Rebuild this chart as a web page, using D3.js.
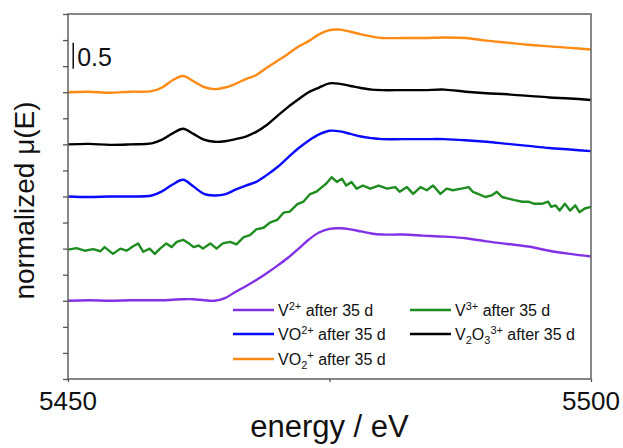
<!DOCTYPE html>
<html>
<head>
<meta charset="utf-8">
<script src="https://cdn.jsdelivr.net/npm/d3@7"></script>
<style>
  body { margin: 0; background: #fff; }
  svg text { font-family: "Liberation Sans", Arial, sans-serif; fill: #111; }
</style>
</head>
<body>
<div id="chart"></div>
<script>
const width = 623;
const height = 448;

// energy grid (eV) shared by the smooth spectra
const energies = [5450, 5452, 5454, 5456, 5458, 5459, 5460, 5461, 5462, 5463, 5464, 5465,
  5466, 5467, 5468, 5469, 5470, 5471, 5472, 5473, 5474, 5475, 5476, 5477, 5478, 5479,
  5480, 5482, 5484, 5486, 5488, 5490, 5492, 5494, 5496, 5498, 5500];

const muV2 = [0.00, 0.01, 0.00, 0.01, 0.01, 0.01, 0.02, 0.03, 0.03, 0.01, 0.00, 0.05,
  0.17, 0.28, 0.40, 0.53, 0.67, 0.82, 0.99, 1.17, 1.31, 1.38, 1.39, 1.37, 1.33, 1.29,
  1.27, 1.27, 1.25, 1.23, 1.20, 1.14, 1.09, 1.04, 0.96, 0.90, 0.85];

const muVO2 = [0.00, -0.01, 0.00, 0.00, 0.02, 0.10, 0.23, 0.32, 0.19, 0.05, 0.02, 0.04,
  0.13, 0.21, 0.28, 0.41, 0.56, 0.74, 0.92, 1.07, 1.19, 1.26, 1.25, 1.20, 1.15, 1.12,
  1.10, 1.10, 1.10, 1.10, 1.08, 1.05, 1.01, 0.97, 0.93, 0.90, 0.87];

const muV2O3 = [0.00, 0.01, -0.01, 0.00, 0.02, 0.09, 0.21, 0.30, 0.20, 0.09, 0.05, 0.06,
  0.10, 0.15, 0.24, 0.37, 0.54, 0.71, 0.86, 1.00, 1.09, 1.17, 1.16, 1.12, 1.08, 1.05,
  1.04, 1.04, 1.04, 1.05, 1.01, 0.98, 0.96, 0.93, 0.90, 0.88, 0.85];

const muVO2p = [0.00, 0.01, -0.01, 0.01, 0.02, 0.09, 0.23, 0.31, 0.21, 0.10, 0.06, 0.09,
  0.16, 0.25, 0.33, 0.47, 0.60, 0.73, 0.87, 0.98, 1.11, 1.19, 1.20, 1.16, 1.11, 1.07,
  1.04, 1.04, 1.04, 1.05, 1.04, 0.99, 0.95, 0.91, 0.88, 0.85, 0.82];

// the V3+ spectrum is noisy, so it has its own finer energy list
const energiesV3 = [5450.0, 5450.8, 5451.6, 5452.4, 5453.1, 5453.5, 5454.3, 5455.0, 5455.6,
  5456.2, 5456.7, 5457.2, 5457.8, 5458.3, 5458.8, 5459.4, 5459.9, 5460.4, 5461.0, 5461.5,
  5462.0, 5462.5, 5462.9, 5463.6, 5464.2, 5464.8, 5465.5, 5466.1, 5466.8, 5467.4, 5468.0,
  5468.7, 5469.3, 5470.0, 5470.6, 5471.2, 5471.9, 5472.5, 5473.1, 5473.8, 5474.1, 5474.7,
  5475.2, 5475.7, 5476.2, 5476.6, 5477.1, 5477.6, 5478.2, 5478.9, 5479.7, 5480.5, 5481.3,
  5481.7, 5482.4, 5483.0, 5483.7, 5484.3, 5484.9, 5485.6, 5486.2, 5486.8, 5487.6, 5488.3,
  5488.7, 5489.2, 5489.9, 5490.5, 5491.0, 5491.5, 5492.1, 5492.7, 5493.4, 5494.0, 5494.6,
  5495.3, 5495.9, 5496.2, 5496.6, 5497.0, 5497.5, 5498.0, 5498.5, 5498.9, 5499.4, 5500.0];

const muV3 = [-0.02, 0.01, -0.04, -0.01, -0.05, 0.03, -0.10, 0.00, -0.04,
  0.04, 0.10, -0.06, 0.00, -0.10, 0.00, 0.10, 0.03, 0.13, 0.17, 0.11,
  0.03, 0.06, 0.00, 0.10, 0.00, 0.10, 0.13, 0.08, 0.22, 0.26, 0.37,
  0.40, 0.50, 0.55, 0.69, 0.71, 0.85, 0.90, 1.04, 1.10, 1.15, 1.25,
  1.37, 1.28, 1.34, 1.21, 1.28, 1.15, 1.21, 1.15, 1.21, 1.15, 1.18,
  1.09, 1.18, 1.05, 1.18, 1.12, 1.21, 1.05, 1.15, 1.12, 1.15, 1.18,
  1.09, 1.05, 0.99, 1.02, 1.09, 0.99, 0.96, 0.93, 0.90, 0.90, 0.86,
  0.86, 0.90, 0.80, 0.83, 0.73, 0.86, 0.73, 0.83, 0.70, 0.77, 0.80];

const seriesNames = ["V2+", "V3+", "VO2+", "V2O3 3+", "VO2 +"];
const seriesColors = ["#8232e6", "#1e8c1e", "#0a0aff", "#000000", "#ff8a14"];
const seriesOffsets = [1.5, 2.5, 3.5, 4.5, 5.5];

const xTicks = [5450, 5475, 5500];
const xTickLabels = [5450, 5500];
const yTicks = d3.range(0, 7.01, 0.5);

const series = [
  { E: energies, mu: muV2, smooth: true },
  { E: energiesV3, mu: muV3, smooth: false },
  { E: energies, mu: muVO2, smooth: true },
  { E: energies, mu: muV2O3, smooth: true },
  { E: energies, mu: muVO2p, smooth: true }
].map((s, i) => ({ ...s, name: seriesNames[i], color: seriesColors[i], offset: seriesOffsets[i] }));

// legend text pieces: [text, kind] with kind = "sup" / "sub" / undefined
const legendItems = [
  { idx: 0, col: 0, row: 0, parts: [["V"], ["2+", "sup"], [" after 35 d"]] },
  { idx: 2, col: 0, row: 1, parts: [["VO"], ["2+", "sup"], [" after 35 d"]] },
  { idx: 4, col: 0, row: 2, parts: [["VO"], ["2", "sub"], ["+", "sup"], [" after 35 d"]] },
  { idx: 1, col: 1, row: 0, parts: [["V"], ["3+", "sup"], [" after 35 d"]] },
  { idx: 3, col: 1, row: 1, parts: [["V"], ["2", "sub"], ["O"], ["3", "sub"], ["3+", "sup"], [" after 35 d"]] }
];

const margin = { left: 68, right: 32, top: 14, bottom: 69 };

const x = d3.scaleLinear().domain([5450, 5500]).range([margin.left, width - margin.right]);
const y = d3.scaleLinear().domain([0, 7]).range([height - margin.bottom, margin.top]);

const svg = d3.select("#chart").append("svg")
  .attr("width", width)
  .attr("height", height);

// curves
const smoothLine = d3.line().x(d => x(d[0])).y(d => y(d[1])).curve(d3.curveCatmullRom.alpha(0.5));
const roughLine = d3.line().x(d => x(d[0])).y(d => y(d[1]));

svg.append("g").selectAll("path")
  .data(series)
  .join("path")
  .attr("fill", "none")
  .attr("stroke", d => d.color)
  .attr("stroke-width", 2.4)
  .attr("stroke-linejoin", "round")
  .attr("d", d => {
    const pts = d.E.map((e, i) => [e, d.mu[i] + d.offset]);
    return d.smooth ? smoothLine(pts) : roughLine(pts);
  });

// frame
svg.append("rect")
  .attr("x", x(5450)).attr("y", y(7))
  .attr("width", x(5500) - x(5450)).attr("height", y(0) - y(7))
  .attr("fill", "none").attr("stroke", "#6a6a6a").attr("stroke-width", 1.6);

// axes
const yAxis = svg.append("g")
  .attr("transform", `translate(${x(5450)},0)`)
  .call(d3.axisLeft(y).tickValues(yTicks).tickSize(5).tickFormat(""));
yAxis.select(".domain").remove();
yAxis.selectAll("line").attr("stroke", "#555").attr("stroke-width", 1.3);

const xAxis = svg.append("g")
  .attr("transform", `translate(0,${y(0)})`)
  .call(d3.axisBottom(x).tickValues(xTicks).tickSize(3).tickFormat(""));
xAxis.select(".domain").remove();
xAxis.selectAll("line").attr("stroke", "#555").attr("stroke-width", 1.3);

svg.append("g").selectAll("text")
  .data(xTickLabels)
  .join("text")
  .attr("x", d => x(d))
  .attr("y", 410)
  .attr("text-anchor", "middle")
  .attr("font-size", 26)
  .text(d => d);

// axis titles
svg.append("text")
  .attr("x", (x(5450) + x(5500)) / 2)
  .attr("y", 437)
  .attr("text-anchor", "middle")
  .attr("font-size", 31)
  .text("energy / eV");

svg.append("text")
  .attr("transform", `translate(34,${(y(0) + y(7)) / 2 + 4}) rotate(-90)`)
  .attr("text-anchor", "middle")
  .attr("font-size", 28)
  .text("normalized μ(E)");

// scale bar
const barX = x(5450.5);
svg.append("line")
  .attr("x1", barX).attr("x2", barX)
  .attr("y1", y(5.95)).attr("y2", y(6.45))
  .attr("stroke", "#111").attr("stroke-width", 1.5);
svg.append("text")
  .attr("x", barX + 4)
  .attr("y", 66)
  .attr("font-size", 25)
  .text("0.5");

// legend
const legend = svg.append("g");
const colX = [233, 410];
const rowY = [310, 334, 359];
legendItems.forEach(item => {
  const s = series[item.idx];
  const lx = colX[item.col];
  const ly = rowY[item.row];
  legend.append("line")
    .attr("x1", lx).attr("x2", lx + 41)
    .attr("y1", ly).attr("y2", ly)
    .attr("stroke", s.color).attr("stroke-width", 2.4);
  const t = legend.append("text")
    .attr("x", lx + 45)
    .attr("y", ly + 6)
    .attr("font-size", 16);
  let shift = 0;
  item.parts.forEach(([txt, kind]) => {
    const target = kind === "sup" ? -6 : kind === "sub" ? 4 : 0;
    t.append("tspan")
      .attr("dy", target - shift)
      .attr("font-size", kind ? 11 : 16)
      .text(txt);
    shift = target;
  });
});
</script>
</body>
</html>
